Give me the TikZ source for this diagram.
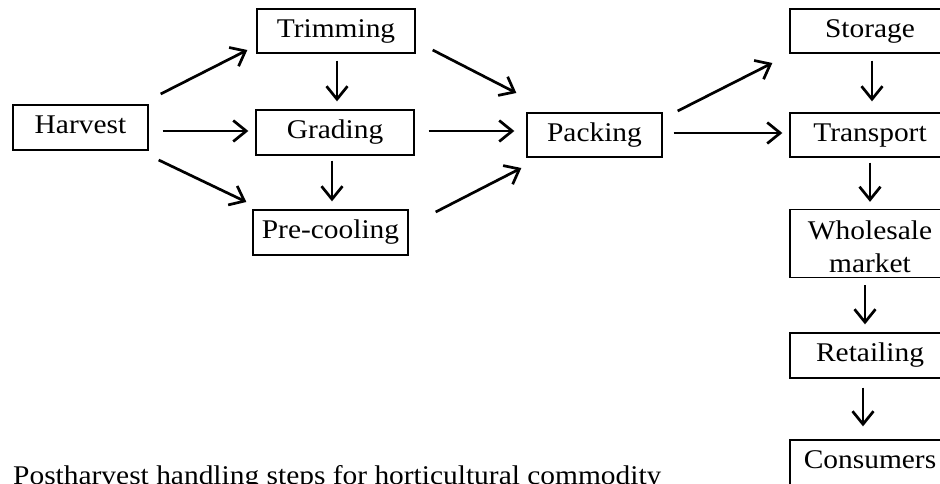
\documentclass[tikz,border=0pt]{standalone}
\usepackage{fontspec}
\setmainfont{Liberation Serif}[FakeStretch=1.09]
\usetikzlibrary{arrows.meta,calc}
\begin{document}
\begin{tikzpicture}[x=1pt,y=-1pt,
  box/.style={draw, line width=1.3pt, inner sep=0pt, align=center,
    font=\fontsize{27}{33}\selectfont, text height=18.4pt, text depth=6pt},
  arr/.style={line width=2.7pt, -{Straight Barb[length=13pt,width=21pt]}},
  captxt/.style={inner sep=0pt, anchor=base west, font=\fontsize{27}{33}\selectfont}
]
\useasboundingbox (0,0) rectangle (940,484);
\clip (0,0) rectangle (940,484);

\node[box, minimum width=135pt, minimum height=45pt] (harvest) at (80.5,127.5) {Harvest};
\node[box, minimum width=158pt, minimum height=44pt] (trim) at (336,31) {Trimming};
\node[box, minimum width=158pt, minimum height=45pt] (grad) at (335,132.5) {Grading};
\node[box, minimum width=155pt, minimum height=45pt] (pre) at (330.5,232.5) {Pre-cooling};
\node[box, minimum width=135pt, minimum height=44pt] (pack) at (594.5,135) {Packing};
\node[box, minimum width=160pt, minimum height=44pt] (stor) at (870,31) {Storage};
\node[box, minimum width=160pt, minimum height=44pt] (trans) at (870,135) {Transport};
\node[box, minimum width=160pt, minimum height=68pt, text height=, text depth=, inner ysep=0pt] (whole) at (870,243.5) {\rule{0pt}{24.8pt}Wholesale\\market};
\node[box, minimum width=160pt, minimum height=45pt] (ret) at (870,355.5) {Retailing};
\node[box, minimum width=160pt, minimum height=45pt] (cons) at (870,462.5) {Consumers};

\node[captxt] (cap) at (13,484) {Postharvest handling steps for horticultural commodity};

\draw[arr] ($(harvest.east)+(12,-33.5)$) -- ($(trim.west)+(-9,19)$);
\draw[arr] ($(harvest.east)+(14,3.5)$) -- ($(grad.west)+(-7,-1.5)$);
\draw[arr] ($(harvest.east)+(10,32.5)$) -- ($(pre.west)+(-6,-30.5)$);
\draw[arr] ($(trim.south)+(1,7)$) -- ($(grad.north)+(2,-8)$);
\draw[arr] ($(grad.south)+(-3,5)$) -- ($(pre.north)+(1.5,-8)$);
\draw[arr] ($(trim.east)+(17,19)$) -- ($(pack.west)+(-10,-42)$);
\draw[arr] ($(grad.east)+(14,-1.5)$) -- ($(pack.west)+(-12,-4)$);
\draw[arr] ($(pre.east)+(27,-20.5)$) -- ($(pack.west)+(-5,33)$);
\draw[arr] ($(pack.east)+(15,-24)$) -- ($(stor.west)+(-17,32)$);
\draw[arr] ($(pack.east)+(11,-2)$) -- ($(trans.west)+(-7,-2)$);
\draw[arr] ($(stor.south)+(2,7)$) -- ($(trans.north)+(2,-11)$);
\draw[arr] ($(trans.south)+(0,5)$) -- ($(whole.north)+(0,-7)$);
\draw[arr] ($(whole.south)+(-5,7)$) -- ($(ret.north)+(-5,-8)$);
\draw[arr] ($(ret.south)+(-7,9)$) -- ($(cons.north)+(-7,-13)$);
\end{tikzpicture}
\end{document}
